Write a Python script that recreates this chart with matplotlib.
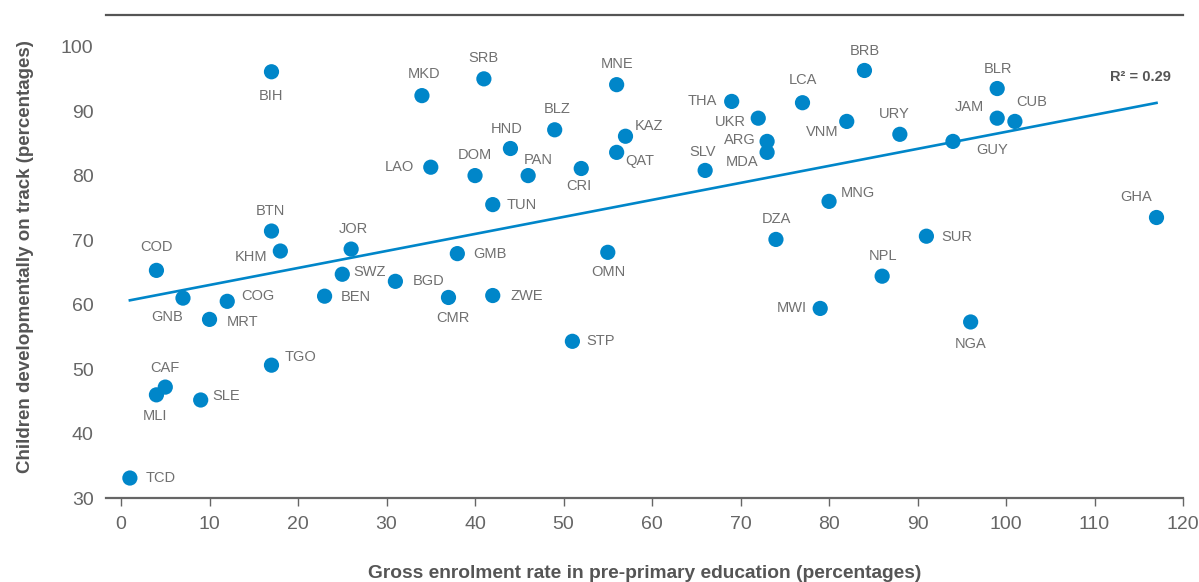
import numpy as np
import matplotlib.pyplot as plt

plt.rcParams['font.family'] = ['Liberation Sans', 'DejaVu Sans']

# Country codes with gross pre-primary enrolment (x) and % developmentally on track (y)
countries = ['BIH', 'MKD', 'SRB', 'MNE', 'BRB', 'BLR', 'LCA', 'THA', 'UKR', 'ARG',
             'MDA', 'VNM', 'URY', 'JAM', 'CUB', 'GUY', 'KAZ', 'QAT', 'BLZ', 'HND',
             'DOM', 'PAN', 'CRI', 'LAO', 'SLV', 'TUN', 'DZA', 'MNG', 'GHA', 'SUR',
             'NPL', 'NGA', 'MWI', 'OMN', 'GMB', 'STP', 'ZWE', 'CMR', 'BGD', 'BEN',
             'SWZ', 'JOR', 'KHM', 'BTN', 'COD', 'GNB', 'COG', 'MRT', 'TGO', 'CAF',
             'MLI', 'SLE', 'TCD']
enrolment = [17, 34, 41, 56, 84, 99, 77, 69, 72, 73,
             73, 82, 88, 99, 101, 94, 57, 56, 49, 44,
             40, 46, 52, 35, 66, 42, 74, 80, 117, 91,
             86, 96, 79, 55, 38, 51, 42, 37, 31, 23,
             25, 26, 18, 17, 4, 7, 12, 10, 17, 5,
             4, 9, 1]
on_track = [96.1, 92.4, 95.0, 94.1, 96.3, 93.5, 91.3, 91.5, 88.9, 85.3,
            83.6, 88.4, 86.4, 88.9, 88.4, 85.3, 86.1, 83.6, 87.1, 84.2,
            80.0, 80.0, 81.1, 81.3, 80.8, 75.5, 70.1, 76.0, 73.5, 70.6,
            64.4, 57.3, 59.4, 68.1, 67.9, 54.3, 61.4, 61.1, 63.6, 61.3,
            64.7, 68.6, 68.3, 71.4, 65.3, 61.0, 60.5, 57.7, 50.6, 47.2,
            46.0, 45.2, 33.1]
r2_text = 'R\u00b2 = 0.29'

# label offsets from each dot, in pixels
label_offsets = {
    'BIH': (0, -24), 'MKD': (2, 22), 'SRB': (0, 21), 'MNE': (0, 21), 'BRB': (0, 19),
    'BLR': (1, 20), 'LCA': (0, 23), 'THA': (-29, 0), 'UKR': (-28, -4), 'ARG': (-27, 1),
    'MDA': (-25, -10), 'VNM': (-24, -11), 'URY': (-6, 20), 'JAM': (-28, 11), 'CUB': (17, 19),
    'GUY': (39, -9), 'KAZ': (24, 10), 'QAT': (23, -9), 'BLZ': (2, 21), 'HND': (-4, 20),
    'DOM': (0, 21), 'PAN': (10, 16), 'CRI': (-2, -18), 'LAO': (-31, 0), 'SLV': (-3, 18),
    'TUN': (29, 0), 'DZA': (0, 20), 'MNG': (29, 8), 'GHA': (-20, 21), 'SUR': (30, -1),
    'NPL': (1, 20), 'NGA': (0, -22), 'MWI': (-28, 0), 'OMN': (1, -20), 'GMB': (33, 0),
    'STP': (28, 0), 'ZWE': (34, 0), 'CMR': (4, -21), 'BGD': (33, 0), 'BEN': (31, -1),
    'SWZ': (27, 2), 'JOR': (2, 20), 'KHM': (-29, -6), 'BTN': (-1, 20), 'COD': (0, 23),
    'GNB': (-16, -19), 'COG': (31, 5), 'MRT': (33, -3), 'TGO': (29, 8), 'CAF': (0, 19),
    'MLI': (-1, -21), 'SLE': (25, 4), 'TCD': (31, 0),
}

blue = '#0086c9'
grey_text = '#707070'

x = np.array(enrolment, dtype=float)
y = np.array(on_track, dtype=float)

fig = plt.figure(figsize=(11.99, 5.82), dpi=100)
ax = fig.add_axes([0.0884, 0.1443, 0.8983, 0.8299])

# linear trend over the data range
slope, intercept = np.polyfit(x, y, 1)
xs = np.array([x.min(), x.max()])
ys = slope * xs + intercept
ax.plot(xs, ys, color=blue, lw=1.9, zorder=2)

ax.scatter(x, y, s=120, color=blue, edgecolors='none', zorder=3)

for name, xi, yi in zip(countries, x, y):
    dx, dy = label_offsets[name]
    ax.annotate(name, (xi, yi), xytext=(dx, dy), textcoords='offset pixels',
                ha='center', va='center', fontsize=10.5, color=grey_text)

ax.annotate(r2_text, (xs[1], ys[1]), xytext=(14, 26), textcoords='offset pixels',
            ha='right', va='center', fontsize=10.5, fontweight='bold', color='#555555')

ax.set_xlim(-1.7, 120)
ax.set_ylim(30, 104.9)
ax.set_xticks(np.arange(0, 121, 10))
ax.set_yticks(np.arange(30, 101, 10))

for side in ['left', 'right']:
    ax.spines[side].set_visible(False)
ax.spines['bottom'].set_color('#666666')
ax.spines['bottom'].set_linewidth(1.6)
ax.spines['top'].set_color('#555555')
ax.spines['top'].set_linewidth(1.6)

ax.tick_params(axis='x', length=6, width=1, color='#666666', labelsize=14,
               labelcolor='#666666', pad=7)
ax.tick_params(axis='y', length=0, labelsize=14, labelcolor='#666666', pad=9)

ax.set_xlabel('Gross enrolment rate in pre-primary education (percentages)',
              fontsize=13.8, fontweight='bold', color='#555555', labelpad=23)
ax.set_ylabel('Children developmentally on track (percentages)',
              fontsize=13.5, fontweight='bold', color='#555555', labelpad=19)

fig.savefig('out.png', dpi=100)
